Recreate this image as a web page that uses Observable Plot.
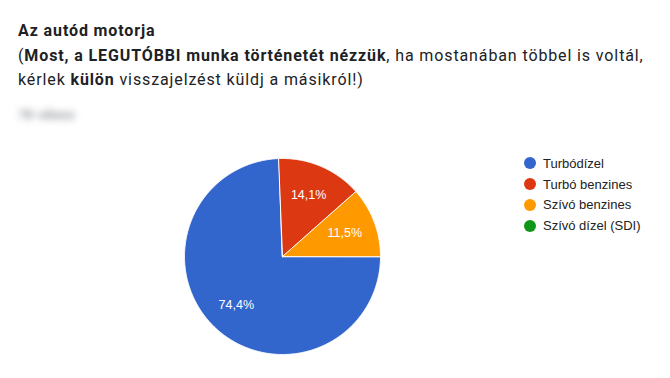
<!DOCTYPE html>
<html>
<head>
<meta charset="utf-8">
<script src="https://cdn.jsdelivr.net/npm/d3@7"></script>
<script src="https://cdn.jsdelivr.net/npm/@observablehq/plot@0.6"></script>
<style>
  html, body { margin: 0; padding: 0; background: #fff; }
  #wrap { position: relative; width: 670px; height: 378px; overflow: hidden; }
  #head { box-sizing: border-box; height: 130px; padding: 19px 0 0 18px; font-family: Roboto, "Noto Sans", sans-serif; color: #202124; font-size: 16px; line-height: 24.5px; letter-spacing: 0.88px; white-space: nowrap; }
  #head b { font-weight: 700; }
  #count { margin-top: 15px; font-size: 13px; line-height: 14px; letter-spacing: 0.3px; color: #70757a; filter: blur(3.5px); }
  #legend { position: absolute; left: 524px; top: 153px; font-family: Arial, "Liberation Sans", sans-serif; font-size: 13px; color: #222; }
  .row { height: 20.8px; display: flex; align-items: center; }
  .sw { width: 12px; height: 12px; border-radius: 50%; margin-right: 7px; }
</style>
</head>
<body>
<div id="wrap">
  <div id="head">
    <div><b>Az autód motorja</b></div>
    <div>(<b>Most, a LEGUTÓBBI munka történetét nézzük</b>, ha mostanában többel is voltál,</div>
    <div>kérlek <b>külön</b> visszajelzést küldj a másikról!)</div>
    <div id="count">78 válasz</div>
  </div>
  <div id="chart"></div>
  <div id="legend"></div>
</div>
<script>
const categories = ["Turbódízel", "Turbó benzines", "Szívó benzines", "Szívó dízel (SDI)"];
const counts = [58, 11, 9, 0];
const colors = ["#3366cc", "#dc3912", "#ff9900", "#109618"];

const total = d3.sum(counts);
const arcs = d3.pie().sort(null)
  .startAngle(Math.PI / 2).endAngle(Math.PI / 2 + 2 * Math.PI)(counts);

const slices = arcs.map((a, i) => ({
  category: categories[i],
  color: colors[i],
  value: counts[i],
  start: a.startAngle,
  end: a.endAngle,
  label: (counts[i] / total * 100).toFixed(1).replace(".", ",") + "%"
})).filter(d => d.value > 0);

function sectorPolygon(d) {
  const n = Math.max(2, Math.ceil((d.end - d.start) / (Math.PI / 360)));
  const ring = [[0, 0]];
  for (let k = 0; k <= n; k++) {
    const t = d.start + (d.end - d.start) * k / n;
    ring.push([Math.sin(t), Math.cos(t)]);
  }
  ring.push([0, 0]);
  return {type: "Feature", properties: d, geometry: {type: "Polygon", coordinates: [ring]}};
}

const features = slices.map(sectorPolygon);
const labelR = 0.68;

const chart = Plot.plot({
  width: 670,
  height: 248,
  marginLeft: 184,
  marginRight: 290,
  marginTop: 28,
  marginBottom: 24,
  projection: {type: "reflect-y", domain: {type: "MultiPoint", coordinates: [[-1, -1], [1, 1]]}},
  marks: [
    Plot.geo(features, {fill: d => d.properties.color, stroke: "#fff", strokeWidth: 1}),
    Plot.text(slices, {
      x: d => labelR * Math.sin((d.start + d.end) / 2),
      y: d => labelR * Math.cos((d.start + d.end) / 2),
      text: "label",
      fill: "#fff",
      fontSize: 12.5,
      fontFamily: "Arial, 'Liberation Sans', sans-serif"
    })
  ]
});
document.getElementById("chart").appendChild(chart);

const legend = document.getElementById("legend");
categories.forEach((c, i) => {
  const row = document.createElement("div");
  row.className = "row";
  const sw = document.createElement("span");
  sw.className = "sw";
  sw.style.background = colors[i];
  const tx = document.createElement("span");
  tx.textContent = c;
  row.appendChild(sw);
  row.appendChild(tx);
  legend.appendChild(row);
});
</script>
</body>
</html>
